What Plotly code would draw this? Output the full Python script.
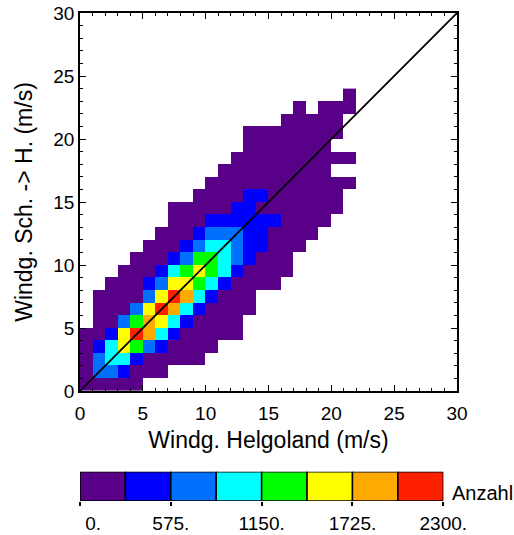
import plotly.graph_objects as go

FONT = "Liberation Sans"

# ---- data: 2D histogram of wind speeds (1 m/s bins) ----
# x bin centres (Helgoland), y bin centres (Sch. -> H.)
x_centres = [0.5, 1.5, 2.5, 3.5, 4.5, 5.5, 6.5, 7.5, 8.5, 9.5, 10.5,
             11.5, 12.5, 13.5, 14.5, 15.5, 16.5, 17.5, 18.5, 19.5, 20.5, 21.5]
y_centres = [0.5, 1.5, 2.5, 3.5, 4.5, 5.5, 6.5, 7.5, 8.5, 9.5, 10.5, 11.5,
             12.5, 13.5, 14.5, 15.5, 16.5, 17.5, 18.5, 19.5, 20.5, 21.5, 22.5, 23.5]

# per y-row: index of first occupied x bin, then estimated counts (Anzahl)
row_first_bin = [0, 0, 0, 0, 0, 1, 1, 1, 2, 3, 4, 5, 6, 7, 7, 9, 10, 11, 12, 13, 13, 16, 17, 21]
row_counts = [
    [140, 140, 140, 140, 140],
    [140, 720, 720, 430, 140, 140, 140],
    [140, 720, 1000, 1000, 430, 140, 140, 140, 140, 140],
    [140, 430, 1000, 1580, 1290, 720, 430, 140, 140, 140, 140],
    [140, 140, 430, 1580, 2150, 1870, 1000, 430, 140, 140, 140, 140, 140],
    [140, 140, 720, 1290, 1870, 1580, 1000, 430, 140, 140, 140, 140],
    [140, 140, 140, 720, 1580, 2150, 1870, 1000, 430, 140, 140, 140, 140],
    [140, 140, 140, 140, 720, 1580, 2150, 1870, 1000, 430, 140, 140, 140],
    [140, 140, 140, 430, 720, 1580, 1580, 1290, 1000, 430, 140, 140, 140, 140],
    [140, 140, 140, 430, 1000, 1290, 1580, 1290, 1000, 430, 140, 140, 140, 140],
    [140, 140, 140, 430, 720, 1290, 1290, 1000, 720, 430, 140, 140, 140],
    [140, 140, 140, 430, 720, 1000, 1000, 720, 430, 430, 140, 140, 140],
    [140, 140, 140, 430, 720, 720, 720, 430, 430, 140, 140, 140, 140],
    [140, 140, 140, 430, 430, 430, 430, 430, 430, 140, 140, 140, 140],
    [140, 140, 140, 140, 140, 430, 430, 140, 140, 140, 140, 140, 140, 140],
    [140, 140, 140, 140, 430, 430, 140, 140, 140, 140, 140, 140],
    [140, 140, 140, 140, 140, 140, 140, 140, 140, 140, 140, 140],
    [140, 140, 140, 140, 140, 140, 140, 140, 140],
    [140, 140, 140, 140, 140, 140, 140, 140, 140, 140],
    [140, 140, 140, 140, 140, 140, 140],
    [140, 140, 140, 140, 140, 140, 140, 140],
    [140, 140, 140, 140, 140],
    [140, None, 140, 140, 140],
    [140],
]

# colour levels of the legend bar
level_edges = [0, 287.5, 575, 862.5, 1150, 1437.5, 1725, 2012.5, 2300]
level_colors = ["#580088", "#0000ff", "#0070ff", "#00ffff",
                "#00ff00", "#ffff00", "#ffaa00", "#ff2000"]
cbar_tickvals = [0, 575, 1150, 1725, 2300]
cbar_ticktext = ["\u00a0\u00a0\u00a0\u00a0\u00a00.", "575.", "1150.", "1725.", "2300."]
identity_line = [0, 30]

# ---- build matrix ----
z = []
for start, vals in zip(row_first_bin, row_counts):
    row = [None] * len(x_centres)
    for k, v in enumerate(vals):
        row[start + k] = v
    z.append(row)

zmax = level_edges[-1]
colorscale = []
for i, c in enumerate(level_colors):
    colorscale.append([level_edges[i] / zmax, c])
    colorscale.append([level_edges[i + 1] / zmax, c])

fig = go.Figure()
fig.add_trace(go.Heatmap(
    x=x_centres, y=y_centres, z=z, zmin=0, zmax=zmax,
    colorscale=colorscale, showscale=False, hoverongaps=False,
    xaxis="x", yaxis="y",
))
fig.add_trace(go.Scatter(
    x=identity_line, y=identity_line, mode="lines",
    line=dict(color="black", width=1.8), showlegend=False,
    xaxis="x", yaxis="y",
))
# legend bar
fig.add_trace(go.Bar(
    orientation="h",
    x=[level_edges[i + 1] - level_edges[i] for i in range(len(level_colors))],
    base=level_edges[:-1],
    y=[0] * len(level_colors),
    width=1,
    marker=dict(color=level_colors, line=dict(color="black", width=1.5)),
    showlegend=False, cliponaxis=False,
    xaxis="x2", yaxis="y2",
))

axis_common = dict(
    range=[0, 30], tick0=0, dtick=5, ticks="inside", ticklen=6, tickwidth=1.2,
    tickcolor="black", mirror="ticks", showline=True, linecolor="black",
    linewidth=1.5, showgrid=False, zeroline=False, automargin=False,
    ticklabeloverflow="allow",
    minor=dict(dtick=1, ticks="inside", ticklen=3, tickcolor="black", tickwidth=1.2),
    tickfont=dict(family=FONT, size=19, color="black"),
)

fig.update_layout(
    width=514, height=535,
    margin=dict(l=80, r=57, t=13, b=34, autoexpand=False),
    paper_bgcolor="white", plot_bgcolor="white",
    barmode="overlay",
    xaxis=dict(axis_common, domain=[0, 1], anchor="y", ticklabelstandoff=4,
               title=dict(text="Windg. Helgoland (m/s)",
                          font=dict(family=FONT, size=23, color="black"),
                          standoff=9)),
    yaxis=dict(axis_common, domain=[0.2254, 1], anchor="x", ticklabelstandoff=0,
               title=dict(text="Windg. Sch. -> H. (m/s)",
                          font=dict(family=FONT, size=23, color="black"),
                          standoff=14)),
    xaxis2=dict(domain=[0, 0.9637], anchor="y2", range=[0, zmax],
                tickvals=cbar_tickvals, ticktext=cbar_ticktext,
                ticks="outside", ticklen=4, tickcolor="black", tickwidth=1.5,
                showline=False, showgrid=False, zeroline=False, automargin=False,
                ticklabeloverflow="allow",
                tickfont=dict(family=FONT, size=19, color="black"),
                ticklabelstandoff=1),
    yaxis2=dict(domain=[0, 0.060], anchor="x2", range=[-0.5, 0.5], automargin=False,
                showticklabels=False, showgrid=False, zeroline=False, ticks=""),
    annotations=[dict(text="Anzahl", xref="paper", yref="paper",
                      x=0.981, y=0.0164, xanchor="left", yanchor="middle",
                      showarrow=False,
                      font=dict(family=FONT, size=20, color="black"))],
)

# remove the browser's default 8 px page margin so the figure fills the window
fig.write_html("out.html", config={"displayModeBar": False},
               post_script="document.body.style.margin='0px';")
